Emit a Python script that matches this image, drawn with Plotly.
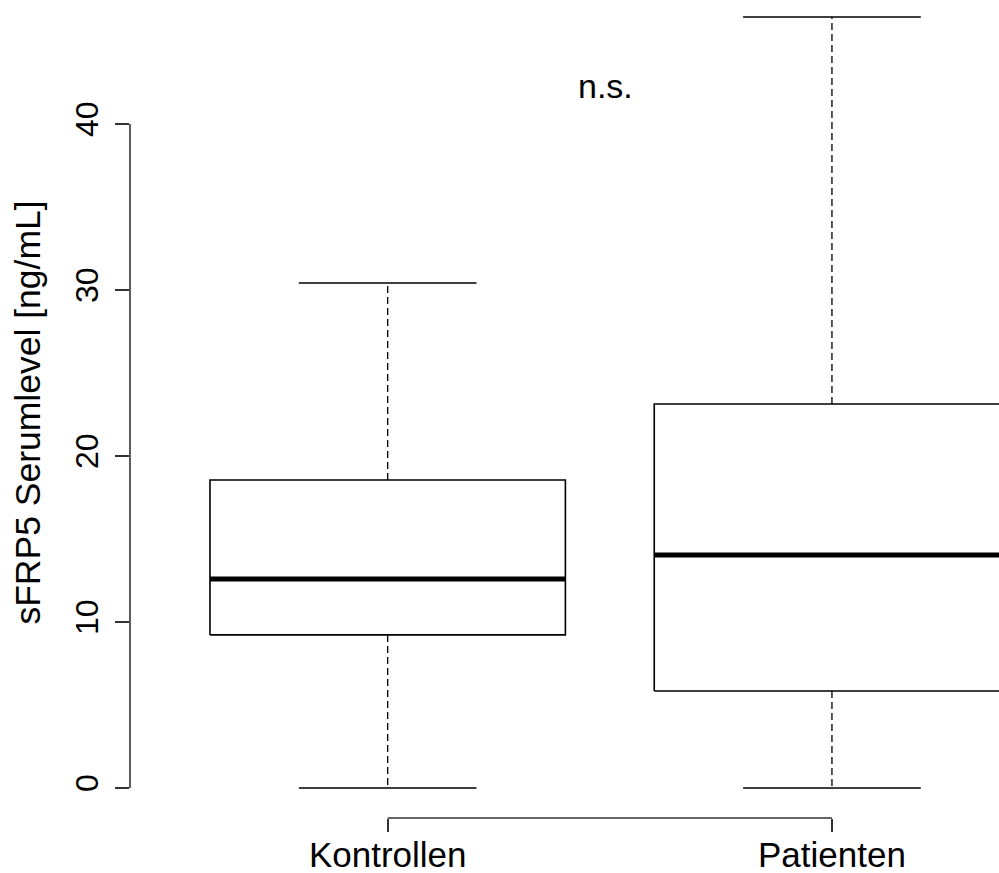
import plotly.graph_objects as go

categories = ["Kontrollen", "Patienten"]
lower_whisker = [0.0, 0.0]
q1 = [9.22, 5.84]
median = [12.59, 14.04]
q3 = [18.55, 23.13]
upper_whisker = [30.42, 46.45]
y_ticks = [0, 10, 20, 30, 40]
y_title = "sFRP5 Serumlevel [ng/mL]"
annotation_text = "n.s."

FONT = "Liberation Sans, Arial, sans-serif"
BOX_HALF = 0.4
CAP_HALF = 0.2
LW = 1.6

fig = go.Figure()
for i, cat in enumerate(categories):
    x = i + 1
    # box
    fig.add_trace(go.Scatter(
        x=[x - BOX_HALF, x + BOX_HALF, x + BOX_HALF, x - BOX_HALF, x - BOX_HALF],
        y=[q1[i], q1[i], q3[i], q3[i], q1[i]],
        mode="lines", line=dict(color="black", width=LW), hoverinfo="skip"))
    # median
    fig.add_trace(go.Scatter(
        x=[x - BOX_HALF, x + BOX_HALF], y=[median[i], median[i]],
        mode="lines", line=dict(color="black", width=5), hoverinfo="skip"))
    # whiskers (dashed)
    fig.add_trace(go.Scatter(
        x=[x, x], y=[q3[i], upper_whisker[i]],
        mode="lines", line=dict(color="black", width=1.3, dash="7px,4px"), hoverinfo="skip"))
    fig.add_trace(go.Scatter(
        x=[x, x], y=[q1[i], lower_whisker[i]],
        mode="lines", line=dict(color="black", width=1.3, dash="7px,4px"), hoverinfo="skip"))
    # caps
    fig.add_trace(go.Scatter(
        x=[x - CAP_HALF, x + CAP_HALF], y=[upper_whisker[i], upper_whisker[i]],
        mode="lines", line=dict(color="black", width=LW), hoverinfo="skip"))
    fig.add_trace(go.Scatter(
        x=[x - CAP_HALF, x + CAP_HALF], y=[lower_whisker[i], lower_whisker[i]],
        mode="lines", line=dict(color="black", width=LW), hoverinfo="skip"))

# axis lines (R style: only span the tick range)
fig.add_shape(type="line", xref="paper", yref="y", x0=0, x1=0,
              y0=y_ticks[0], y1=y_ticks[-1], line=dict(color="#333", width=LW))
fig.add_shape(type="line", xref="x", yref="paper", x0=1, x1=len(categories),
              y0=0, y1=0, line=dict(color="#333", width=LW))

fig.add_annotation(x=1.49, y=42.3, xref="x", yref="y", text=annotation_text,
                   showarrow=False, font=dict(family=FONT, size=34, color="black"),
                   xanchor="center", yanchor="middle")
fig.add_annotation(x=-0.117, y=0.496, xref="paper", yref="paper", text=y_title,
                   textangle=-90, showarrow=False,
                   font=dict(family=FONT, size=35.5, color="black"),
                   xanchor="center", yanchor="middle")

fig.update_layout(
    width=999, height=873,
    margin=dict(l=130, r=0, t=0, b=55),
    paper_bgcolor="white", plot_bgcolor="white",
    showlegend=False,
    xaxis=dict(range=[0.42, 2.376], tickvals=[1, 2], ticktext=categories,
               ticks="outside", ticklen=13, tickwidth=LW, tickcolor="#333",
               ticklabelstandoff=-7,
               showline=False, showgrid=False, zeroline=False, automargin=False,
               tickfont=dict(family=FONT, size=35, color="black")),
    yaxis=dict(range=[-1.81, 47.47], tickvals=y_ticks,
               ticktext=[str(v) for v in y_ticks],
               ticks="outside", ticklen=14, tickwidth=LW, tickcolor="#333",
               tickangle=-90, ticklabelstandoff=4, automargin=False,
               showline=False, showgrid=False, zeroline=False,
               tickfont=dict(family=FONT, size=32, color="black")),
)

fig.write_html("out.html", config={"displayModeBar": False},
               post_script="document.body.style.margin='0';document.body.style.overflow='hidden';")
